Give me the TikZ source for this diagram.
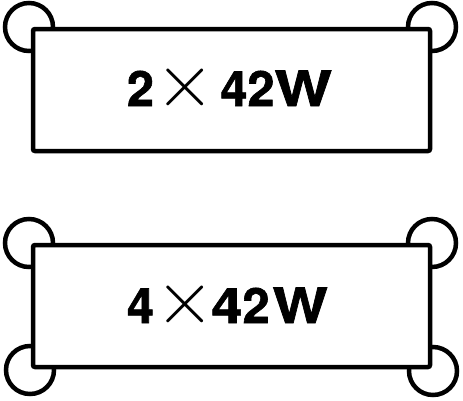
\documentclass[tikz,border=0pt]{standalone}
\usepackage{fontspec}
\setmainfont[BoldFeatures={FakeBold=1.2}]{TeX Gyre Heros}
\tikzset{
  outline/.style={line width=4.5pt, draw=black},
  lampbox/.style={outline, fill=white, rounded corners=2pt},
  lamp/.style={outline},
  lbl/.style={inner sep=0pt, anchor=base west, font=\fontsize{48.7}{50}\selectfont\bfseries}
}
\newcommand{\mult}{\scalebox{3.07}{$\times$}}
\begin{document}
\begin{tikzpicture}[x=1pt,y=-1pt]
\useasboundingbox (0,0) rectangle (463,400);
% top unit
\draw[lamp] (29,27) circle (24);
\draw[lamp] (432,27) circle (24);
\draw[lampbox] (33,29) rectangle (430,151);
\node[lbl] (t1) at (126.7,106) {2\hspace{2pt}\mult\hspace{5pt}42\scalebox{1.25}[1]{W}};
% bottom unit
\draw[lamp] (29,243) circle (24);
\draw[lamp] (432,243) circle (24);
\draw[lamp] (30,370) circle (24);
\draw[lamp] (433,371) circle (24);
\draw[lampbox] (33,245) rectangle (430,367);
\node[lbl] (t2) at (126.7,323) {4\hspace{2pt}\mult\hspace{-4pt}\scalebox{1.15}[1]{4}2\hspace{3pt}\scalebox{1.2}[1]{W}};
\end{tikzpicture}
\end{document}
